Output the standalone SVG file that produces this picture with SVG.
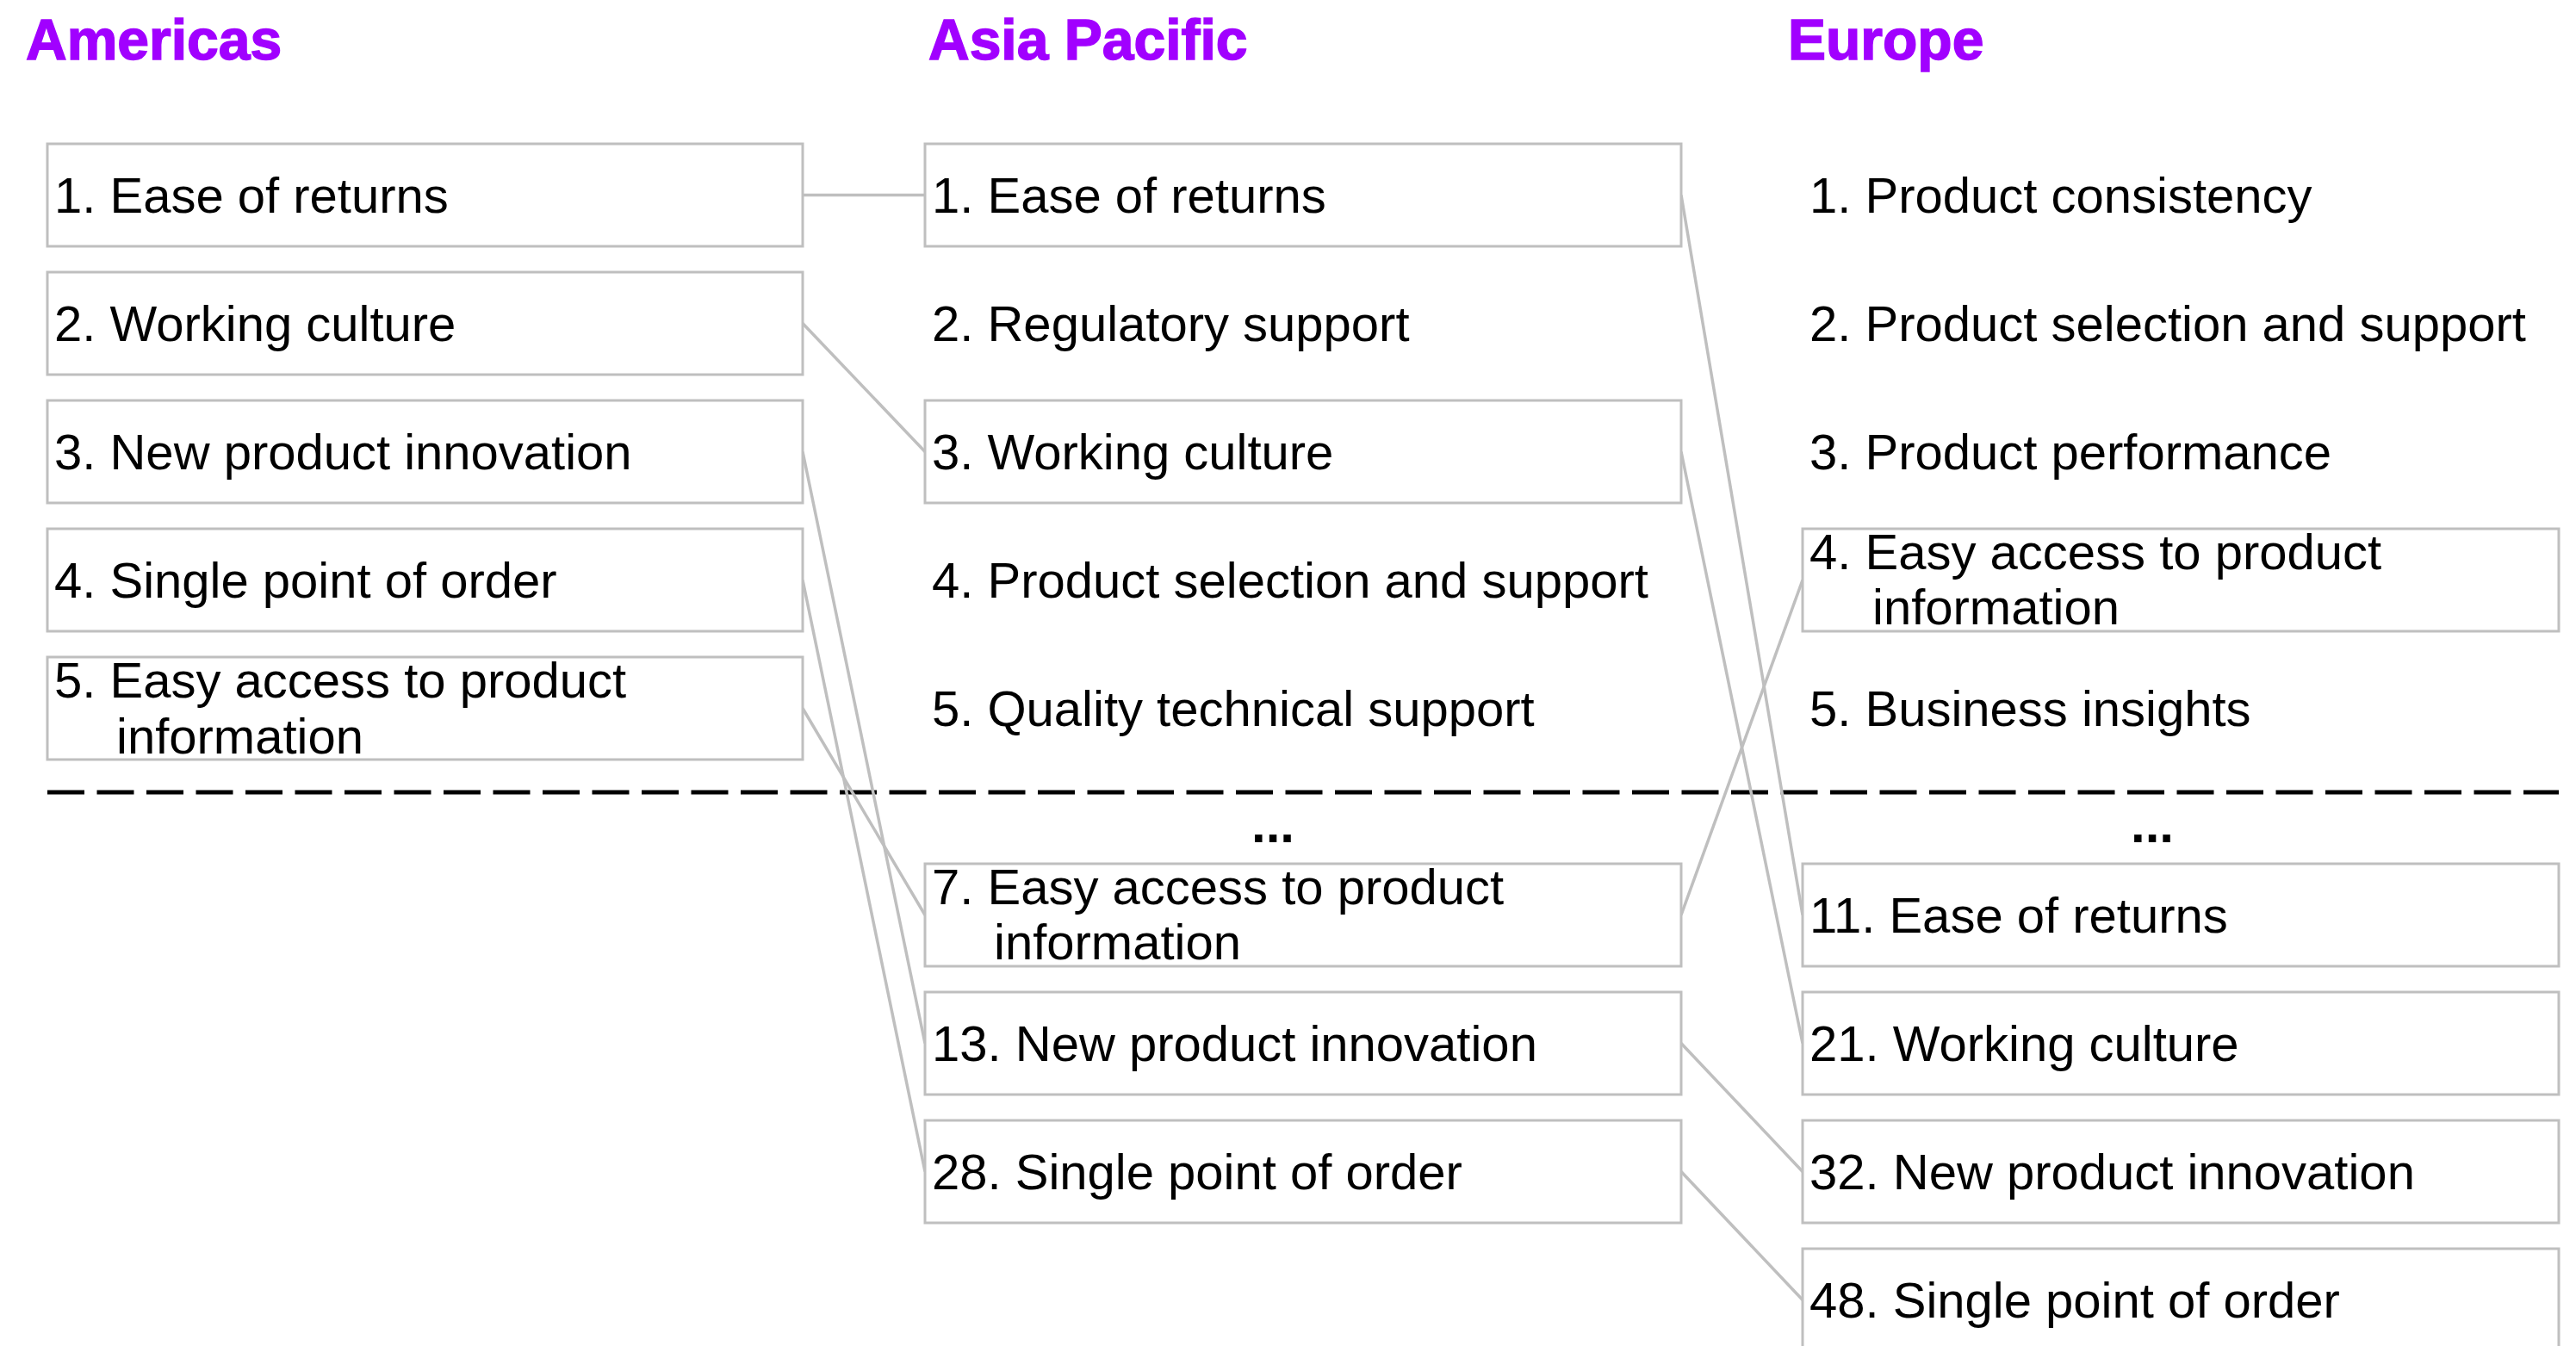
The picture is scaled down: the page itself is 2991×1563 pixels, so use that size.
<svg xmlns="http://www.w3.org/2000/svg" width="2991" height="1563" viewBox="0 0 2991 1563">
<style>
.bg{fill:#ffffff}
.title{font-family:"Liberation Sans",Arial,sans-serif;font-weight:bold;font-size:66px;fill:#A100FF;stroke:#A100FF;stroke-width:1.5}
.box{fill:#ffffff;stroke:#bfbfbf;stroke-width:3}
.t{font-family:"Liberation Sans",Arial,sans-serif;font-size:58px;fill:#000000}
.dots{font-family:"Liberation Sans",Arial,sans-serif;font-weight:bold;font-size:60px;fill:#000000;text-anchor:middle}
.conn{stroke:#bfbfbf;stroke-width:3.5;fill:none}
.divider{stroke:#000000;stroke-width:5;stroke-dasharray:43 14.5;fill:none}
</style>
<rect class="bg" x="0" y="0" width="2991" height="1563"/>
<g id="titles">
<text class="title" x="30" y="69">Americas</text>
<text class="title" x="1078" y="69">Asia Pacific</text>
<text class="title" x="2076" y="69">Europe</text>
</g>
<line class="divider" x1="55" y1="920" x2="2971" y2="920"/>
<g id="connectors">
<line class="conn" x1="932" y1="226.5" x2="1074" y2="226.5"/>
<line class="conn" x1="932" y1="375.5" x2="1074" y2="524.5"/>
<line class="conn" x1="932" y1="524.5" x2="1074" y2="1211.5"/>
<line class="conn" x1="932" y1="673.5" x2="1074" y2="1360.5"/>
<line class="conn" x1="932" y1="822.5" x2="1074" y2="1062.5"/>
<line class="conn" x1="1952" y1="226.5" x2="2093" y2="1062.5"/>
<line class="conn" x1="1952" y1="524.5" x2="2093" y2="1211.5"/>
<line class="conn" x1="1952" y1="1062.5" x2="2093" y2="673.5"/>
<line class="conn" x1="1952" y1="1211.5" x2="2093" y2="1360.5"/>
<line class="conn" x1="1952" y1="1360.5" x2="2093" y2="1509.5"/>
</g>
<g id="am1"><rect class="box" x="55" y="167" width="877" height="119"/><text class="t" x="63" y="247">1. Ease of returns</text></g>
<g id="am2"><rect class="box" x="55" y="316" width="877" height="119"/><text class="t" x="63" y="396">2. Working culture</text></g>
<g id="am3"><rect class="box" x="55" y="465" width="877" height="119"/><text class="t" x="63" y="545">3. New product innovation</text></g>
<g id="am4"><rect class="box" x="55" y="614" width="877" height="119"/><text class="t" x="63" y="694">4. Single point of order</text></g>
<g id="am5"><rect class="box" x="55" y="763" width="877" height="119"/><text class="t" x="63" y="810">5. Easy access to product</text><text class="t" x="135" y="875">information</text></g>
<g id="ap1"><rect class="box" x="1074" y="167" width="878" height="119"/><text class="t" x="1082" y="247">1. Ease of returns</text></g>
<g id="ap2"><text class="t" x="1082" y="396">2. Regulatory support</text></g>
<g id="ap3"><rect class="box" x="1074" y="465" width="878" height="119"/><text class="t" x="1082" y="545">3. Working culture</text></g>
<g id="ap4"><text class="t" x="1082" y="694">4. Product selection and support</text></g>
<g id="ap5"><text class="t" x="1082" y="843">5. Quality technical support</text></g>
<g id="ap-more"><text class="dots" x="1478" y="978">...</text></g>
<g id="ap7"><rect class="box" x="1074" y="1003" width="878" height="119"/><text class="t" x="1082" y="1050">7. Easy access to product</text><text class="t" x="1154" y="1114">information</text></g>
<g id="ap13"><rect class="box" x="1074" y="1152" width="878" height="119"/><text class="t" x="1082" y="1232">13. New product innovation</text></g>
<g id="ap28"><rect class="box" x="1074" y="1301" width="878" height="119"/><text class="t" x="1082" y="1381">28. Single point of order</text></g>
<g id="eu1"><text class="t" x="2101" y="247">1. Product consistency</text></g>
<g id="eu2"><text class="t" x="2101" y="396">2. Product selection and support</text></g>
<g id="eu3"><text class="t" x="2101" y="545">3. Product performance</text></g>
<g id="eu4"><rect class="box" x="2093" y="614" width="878" height="119"/><text class="t" x="2101" y="661">4. Easy access to product</text><text class="t" x="2174" y="725">information</text></g>
<g id="eu5"><text class="t" x="2101" y="843">5. Business insights</text></g>
<g id="eu-more"><text class="dots" x="2499" y="978">...</text></g>
<g id="eu11"><rect class="box" x="2093" y="1003" width="878" height="119"/><text class="t" x="2101" y="1083">11. Ease of returns</text></g>
<g id="eu21"><rect class="box" x="2093" y="1152" width="878" height="119"/><text class="t" x="2101" y="1232">21. Working culture</text></g>
<g id="eu32"><rect class="box" x="2093" y="1301" width="878" height="119"/><text class="t" x="2101" y="1381">32. New product innovation</text></g>
<g id="eu48"><rect class="box" x="2093" y="1450" width="878" height="119"/><text class="t" x="2101" y="1530">48. Single point of order</text></g>
</svg>
